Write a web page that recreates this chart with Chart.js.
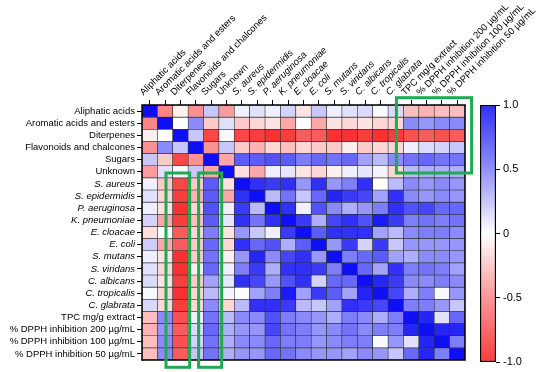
<!DOCTYPE html>
<html>
<head>
<meta charset="utf-8">
<script src="https://cdn.jsdelivr.net/npm/chart.js@4.4.1/dist/chart.umd.min.js"></script>
<style>
  body { margin: 0; background: #fff; }
  #wrap { position: relative; width: 550px; height: 372px; overflow: hidden; }
  #heat { position: absolute; left: 0; top: 0; }
  #bar { position: absolute; left: 470px; top: 0; }
</style>
</head>
<body>
<div id="wrap">
  <canvas id="heat" width="550" height="372"></canvas>
  <canvas id="bar" width="80" height="372"></canvas>
</div>
<script>
const variables = [
  "Aliphatic acids", "Aromatic acids and esters", "Diterpenes", "Flavonoids and chalcones",
  "Sugars", "Unknown", "S. aureus", "S. epidermidis", "P. aeruginosa", "K. pneumoniae",
  "E. cloacae", "E. coli", "S. mutans", "S. viridans", "C. albicans", "C. tropicalis",
  "C. glabrata", "TPC mg/g extract", "% DPPH inhibition 200 µg/mL",
  "% DPPH inhibition 100 µg/mL", "% DPPH inhibition 50 µg/mL"
];
const italicNames = [
  "S. aureus", "S. epidermidis", "P. aeruginosa", "K. pneumoniae", "E. cloacae", "E. coli",
  "S. mutans", "S. viridans", "C. albicans", "C. tropicalis", "C. glabrata"
];

// correlation rows (one per variable, same order as columns)
const rAliphatic   = [1, -0.5, -0.05, -0.45, 0.2, -0.4, 0.05, 0.1, 0.05, 0.15, -0.1, 0.2, 0.05, 0.1, 0.12, 0.02, 0.12, -0.25, -0.3, -0.25, -0.25];
const rAromatic    = [-0.5, 1, 0, 0.45, -0.2, 0.1, -0.2, -0.15, -0.1, -0.35, 0, -0.35, -0.1, -0.15, -0.1, -0.15, -0.15, 0.45, 0.4, 0.45, 0.45];
const rDiterpenes  = [-0.05, 0, 1, 0.2, -0.8, 0.02, -0.8, -0.85, -0.9, -0.85, -0.7, -0.7, -0.9, -0.9, -0.85, -0.9, -0.85, -0.75, -0.7, -0.75, -0.7];
const rFlavonoids  = [-0.45, 0.45, 0.2, 1, -0.45, 0.2, -0.2, -0.3, -0.15, -0.25, -0.15, -0.2, -0.2, -0.05, -0.2, -0.15, -0.15, 0.05, 0.12, 0.15, 0.2];
const rSugars      = [0.2, -0.2, -0.8, -0.45, 1, -0.35, 0.65, 0.65, 0.7, 0.65, 0.5, 0.6, 0.55, 0.6, 0.35, 0.25, 0.45, 0.55, 0.6, 0.55, 0.55];
const rUnknown     = [-0.4, 0.1, 0.02, 0.2, -0.35, 1, -0.12, -0.35, 0.05, 0.08, -0.1, -0.15, -0.05, 0.05, 0.08, 0.03, -0.15, 0.25, 0.3, 0.3, 0.3];
const rSAureus     = [0.05, -0.2, -0.8, -0.2, 0.65, -0.12, 1, 0.85, 0.8, 0.85, 0.4, 0.85, 0.4, 0.5, 0.85, 0, 0.25, 0.45, 0.4, 0.45, 0.4];
const rSEpid       = [0.1, -0.15, -0.85, -0.3, 0.65, -0.35, 0.85, 1, 0.25, 0.55, 0.2, 0.6, 0.9, 0.8, 0.75, 0.35, 0.85, 0.45, 0.4, 0.45, 0.4];
const rPAerug      = [0.05, -0.1, -0.9, -0.15, 0.7, 0.05, 0.8, 0.25, 1, 0.85, 0.05, 0.7, 0.45, 0.3, 0.4, 0.5, 0.85, 0.7, 0.75, 0.6, 0.6];
const rKPneum      = [0.15, -0.35, -0.85, -0.25, 0.65, 0.08, 0.85, 0.55, 0.85, 1, 0.8, 0.3, 0.75, 0.85, 0.7, 0.95, 0.8, 0.5, 0.55, 0.5, 0.55];
const rECloacae    = [-0.12, 0, -0.7, -0.15, 0.5, -0.1, 0.4, 0.2, 0.05, 0.8, 1, 0.65, 0.85, 0.85, 0.85, 0.35, 0.25, 0.45, 0.5, 0.5, 0.45];
const rEColi       = [0.18, -0.35, -0.7, -0.2, 0.6, -0.15, 0.85, 0.6, 0.7, 0.3, 0.65, 1, 0.4, 0.8, 0.15, 0.8, 0.2, 0.4, 0.4, 0.4, 0.4];
const rSMutans     = [0.05, -0.1, -0.9, -0.2, 0.55, -0.05, 0.4, 0.9, 0.45, 0.75, 0.85, 0.4, 1, 0.5, 0.6, 0.65, 0.35, 0.3, 0.45, 0.45, 0.4];
const rSViridans   = [0.1, -0.15, -0.9, -0.05, 0.6, 0.05, 0.5, 0.8, 0.3, 0.85, 0.85, 0.8, 0.5, 1, 0.6, 0.35, 0.85, 0.5, 0.55, 0.5, 0.35];
const rCAlbicans   = [0.12, -0.1, -0.85, -0.2, 0.35, 0.08, 0.85, 0.75, 0.4, 0.7, 0.85, 0.15, 0.6, 0.6, 1, 0.9, 0.8, 0.45, 0.45, 0.5, 0.45];
const rCTropicalis = [0.02, -0.15, -0.9, -0.15, 0.25, 0.03, 0, 0.35, 0.5, 0.95, 0.35, 0.8, 0.65, 0.35, 0.9, 1, 0.75, 0.3, 0.5, 0.02, 0.4];
const rCGlabrata   = [0.13, -0.15, -0.85, -0.15, 0.45, -0.15, 0.25, 0.85, 0.85, 0.8, 0.25, 0.2, 0.35, 0.85, 0.8, 0.75, 1, 0.5, 0.5, 0.4, 0.2];
const rTPC         = [-0.25, 0.45, -0.75, 0.05, 0.55, 0.25, 0.45, 0.45, 0.7, 0.5, 0.45, 0.4, 0.3, 0.5, 0.45, 0.3, 0.5, 1, 0.9, 0.1, 0.6];
const rDPPH200     = [-0.3, 0.4, -0.7, 0.12, 0.6, 0.3, 0.4, 0.4, 0.75, 0.55, 0.5, 0.4, 0.45, 0.55, 0.45, 0.5, 0.5, 0.9, 1, 0.9, 0.9];
const rDPPH100     = [-0.25, 0.45, -0.75, 0.15, 0.55, 0.3, 0.45, 0.45, 0.6, 0.5, 0.5, 0.4, 0.45, 0.5, 0.5, 0.02, 0.4, 0.1, 0.9, 1, 0.5];
const rDPPH50      = [-0.25, 0.45, -0.7, 0.2, 0.55, 0.3, 0.4, 0.4, 0.6, 0.55, 0.45, 0.4, 0.4, 0.35, 0.45, 0.4, 0.2, 0.6, 0.9, 0.5, 1];

const matrixRows = [rAliphatic, rAromatic, rDiterpenes, rFlavonoids, rSugars, rUnknown,
  rSAureus, rSEpid, rPAerug, rKPneum, rECloacae, rEColi, rSMutans, rSViridans,
  rCAlbicans, rCTropicalis, rCGlabrata, rTPC, rDPPH200, rDPPH100, rDPPH50];

const colorbarTicks = [-1, -0.5, 0, 0.5, 1];

// green highlight boxes, in cell index units
const highlights = [
  { c0: 1.06, c1: 2.6, r0: 5.1, r1: 21.1 },
  { c0: 3.18, c1: 4.68, r0: 5.1, r1: 21.1 },
  { c0: 16.04, c1: 20.93, r0: -1.1, r1: 5.1 }
];

const FONT = "'Liberation Sans', Arial, sans-serif";

function cellColor(v) {
  const t = Math.min(1, Math.abs(v));
  if (v >= 0) {
    const c = Math.round(255 - Math.pow(t, 0.9) * 240);
    return `rgb(${c},${c},${Math.round(255 - t * 10)})`;
  }
  const c = Math.round(255 - Math.pow(t, 0.9) * 225);
  return `rgb(${Math.round(255 - t * 8)},${c},${c})`;
}

function tickFont(ctx) {
  const label = variables[ctx.index];
  return { family: FONT, size: 9.5, style: italicNames.includes(label) ? "italic" : "normal" };
}

const datasets = matrixRows.map((row, i) => ({
  data: variables.map(() => [i - 0.5, i + 0.5]),
  backgroundColor: row.map(cellColor),
  borderColor: "#2a2a2a",
  borderWidth: 0.6,
  borderSkipped: false,
  barPercentage: 1,
  categoryPercentage: 1,
  grouped: false,
}));

const framePlugin = {
  id: "frame",
  afterDatasetsDraw(chart) {
    const { ctx, chartArea, scales } = chart;
    ctx.save();
    ctx.strokeStyle = "#000";
    ctx.lineWidth = 1.5;
    ctx.strokeRect(chartArea.left, chartArea.top, chartArea.right - chartArea.left, chartArea.bottom - chartArea.top);
    ctx.strokeStyle = "#1faa4f";
    ctx.lineWidth = 3;
    highlights.forEach((b) => {
      const x0 = scales.x.getPixelForValue(b.c0);
      const x1 = scales.x.getPixelForValue(b.c1);
      const y0 = scales.y.getPixelForValue(b.r0);
      const y1 = scales.y.getPixelForValue(b.r1);
      ctx.strokeRect(x0, y0, x1 - x0, y1 - y0);
    });
    ctx.restore();
  },
};

new Chart(document.getElementById("heat"), {
  type: "bar",
  data: { labels: variables, datasets: datasets },
  options: {
    responsive: false,
    animation: false,
    layout: { padding: { top: 0, left: 0, right: 85, bottom: 12 } },
    plugins: { legend: { display: false }, tooltip: { enabled: false } },
    scales: {
      x: {
        type: "category",
        position: "top",
        grid: { drawOnChartArea: false, offset: false, color: "#000", tickLength: 5 },
        border: { display: true, color: "#000", width: 1 },
        ticks: {
          color: "#000",
          font: tickFont,
          minRotation: 45,
          maxRotation: 45,
          padding: 2,
          autoSkip: false,
        },
        afterFit: (scale) => { scale.height = 105; },
      },
      y: {
        type: "linear",
        reverse: true,
        min: -0.5,
        max: 20.5,
        grid: { drawOnChartArea: false, color: "#000", tickLength: 5 },
        border: { display: true, color: "#000", width: 1 },
        afterBuildTicks: (scale) => {
          scale.ticks = variables.map((_, i) => ({ value: i }));
        },
        ticks: {
          color: "#000",
          font: tickFont,
          padding: 2,
          autoSkip: false,
          callback: (value) => variables[value],
        },
        afterFit: (scale) => { scale.width = 142; },
      },
    },
  },
  plugins: [framePlugin],
});

// colour bar
new Chart(document.getElementById("bar"), {
  type: "bar",
  data: {
    labels: [""],
    datasets: [{
      data: [[-1, 1]],
      backgroundColor: (ctx) => {
        const area = ctx.chart.chartArea;
        if (!area) return "#fff";
        const g = ctx.chart.ctx.createLinearGradient(0, area.bottom, 0, area.top);
        colorbarTicks.forEach((v) => g.addColorStop((v + 1) / 2, cellColor(v * 0.85)));
        return g;
      },
      borderColor: "#000",
      borderWidth: 1.5,
      borderSkipped: false,
      barPercentage: 1,
      categoryPercentage: 1,
    }],
  },
  options: {
    responsive: false,
    animation: false,
    layout: { padding: { top: 105, left: 10, right: 0, bottom: 10 } },
    plugins: { legend: { display: false }, tooltip: { enabled: false } },
    scales: {
      x: { display: false },
      y: {
        position: "right",
        min: -1,
        max: 1,
        grid: { drawOnChartArea: false, color: "#000", tickLength: 4 },
        border: { display: false },
        afterBuildTicks: (scale) => {
          scale.ticks = colorbarTicks.map((v) => ({ value: v }));
        },
        ticks: {
          color: "#000",
          font: { family: FONT, size: 11 },
          padding: 3,
          callback: (v) => (v === 0 ? "0" : v.toFixed(1)),
        },
        afterFit: (scale) => { scale.width = 54; },
      },
    },
  },
});
</script>
</body>
</html>
